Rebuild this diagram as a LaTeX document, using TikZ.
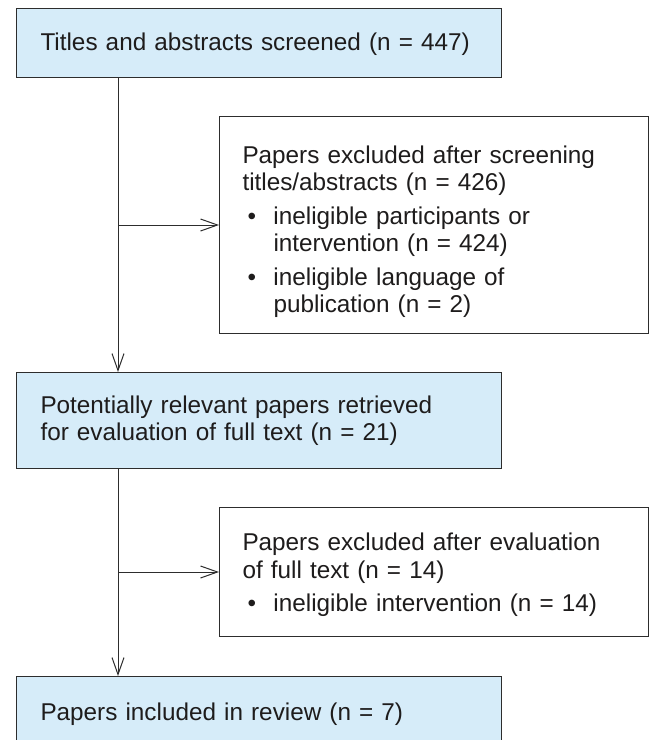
\documentclass[tikz,border=0pt]{standalone}
\usepackage{fontspec}
\setmainfont{Liberation Sans}
\usetikzlibrary{arrows.meta}
\definecolor{boxblue}{RGB}{214,236,249}
\definecolor{linegray}{RGB}{45,45,45}
\definecolor{textgray}{RGB}{30,28,28}
\newcommand\topgap[1]{\rule{0pt}{#1}}
\newcommand\bul{\hspace*{5pt}\makebox[26pt][l]{\textbullet}}
\newcommand\cont{\hspace*{31pt}}
\tikzset{
  base/.style={draw=linegray, line width=1pt, anchor=north west, inner ysep=0pt,
    align=left, text=textgray, font=\fontsize{24.3}{27.5}\selectfont},
  bluebox/.style={base, fill=boxblue, inner xsep=24pt},
  whitebox/.style={base, fill=white, inner xsep=23pt},
  arr/.style={draw=linegray, line width=1pt, -{Straight Barb[length=17pt,width=12pt]}},
  plain/.style={draw=linegray, line width=1pt}
}
\begin{document}
\begin{tikzpicture}[x=1pt,y=-1pt]
\clip (0,0) rectangle (654,740);
\fill[white] (0,0) rectangle (654,740);

\node[bluebox, text width=437pt, minimum width=485pt, minimum height=69pt] (b1) at (16,8)
  {\topgap{21pt}Titles and abstracts screened (n = 447)};

\node[whitebox, text width=383pt, minimum width=429pt, minimum height=217pt] (b2) at (219,116)
  {\topgap{31pt}Papers excluded after screening\\
   titles/abstracts (n = 426)\\[6pt]
   \bul ineligible participants or\\
   \cont intervention (n = 424)\\[6pt]
   \bul ineligible language of\\
   \cont publication (n = 2)};

\node[bluebox, text width=437pt, minimum width=485pt, minimum height=96pt] (b3) at (16,372)
  {Potentially relevant papers retrieved\\
   for evaluation of full text (n = 21)};

\node[whitebox, text width=383pt, minimum width=429pt, minimum height=129pt] (b4) at (219,507)
  {\topgap{24pt}Papers excluded after evaluation\\
   of full text (n = 14)\\[6pt]
   \bul ineligible intervention (n = 14)};

\node[bluebox, text width=437pt, minimum width=485pt, minimum height=75pt] (b5) at (16,676)
  {Papers included in review (n = 7)};

\coordinate (s1) at ([xshift=102pt]b1.south west);
\coordinate (s2) at ([xshift=102pt]b3.south west);
\draw[arr] (s1) -- (s1 |- b3.north);
\draw[arr] (s1 |- b2.west) -- (b2.west);
\draw[arr] (s2) -- (s2 |- b5.north);
\draw[arr] (s2 |- b4.west) -- (b4.west);
\end{tikzpicture}
\end{document}
